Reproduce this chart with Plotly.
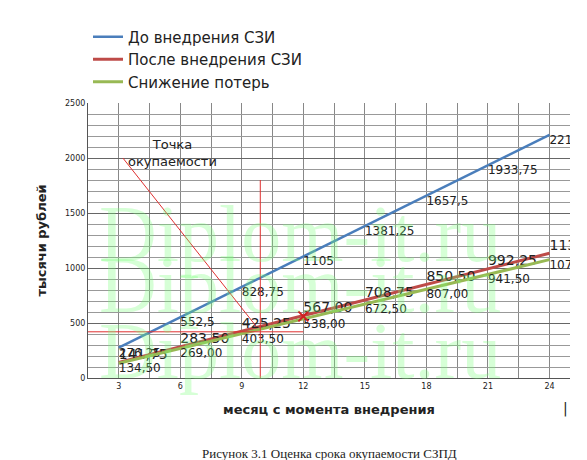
import plotly.graph_objects as go

months = [3, 6, 9, 12, 15, 18, 21, 24]
before = [276.25, 552.5, 828.75, 1105, 1381.25, 1657.5, 1933.75, 2210]
after = [141.75, 283.50, 425.25, 567.00, 708.75, 850.50, 992.25, 1134.00]
saving = [134.50, 269.00, 403.50, 538.00, 672.50, 807.00, 941.50, 1076.00]
before_lbl = ["276,25", "552,5", "828,75", "1105", "1381,25", "1657,5", "1933,75", "2210"]
after_lbl = ["141,75", "283,50", "425,25", "567,00", "708,75", "850,50", "992,25", "1134,00"]
saving_lbl = ["134,50", "269,00", "403,50", "538,00", "672,50", "807,00", "941,50", "1076,00"]
diag_x = [3.2, 9.7]
diag_y = [2000, 470]
vert_x = [9.9, 9.9]
vert_y = [0, 1800]
hor_x = [1.5, 12]
hor_y = [420, 420]
cross_x = [12]
cross_y = [560]

fig = go.Figure()
fig.add_trace(go.Scatter(x=months, y=before, mode="lines+text", name="До внедрения СЗИ",
    line=dict(color="#4a7ebb", width=2.5), text=before_lbl, textposition="bottom right",
    textfont=dict(size=12, color="#222")))
fig.add_trace(go.Scatter(x=months, y=after, mode="lines+text", name="После внедрения СЗИ",
    line=dict(color="#be4b48", width=3), text=after_lbl, textposition="top right",
    textfont=dict(size=14, color="#222")))
fig.add_trace(go.Scatter(x=months, y=saving, mode="lines+text", name="Снижение потерь",
    line=dict(color="#98b954", width=3), text=saving_lbl, textposition="bottom right",
    textfont=dict(size=12, color="#222")))
for xs, ys in [(diag_x, diag_y), (vert_x, vert_y), (hor_x, hor_y)]:
    fig.add_trace(go.Scatter(x=xs, y=ys, mode="lines", line=dict(color="#e03030", width=1), showlegend=False))
fig.add_trace(go.Scatter(x=cross_x, y=cross_y, mode="markers", marker=dict(symbol="x-thin", size=10,
    line=dict(color="#d02020", width=2)), showlegend=False))
fig.add_annotation(x=5.6, y=2050, text="Точка<br>окупаемости", showarrow=False,
    font=dict(size=13, color="#222"), align="center")

for yy in [0.69, 0.34, -0.07]:
    fig.add_annotation(xref="paper", yref="paper", x=0.44, y=yy, text="Diplom-it.ru", showarrow=False,
        font=dict(family="Liberation Serif", size=80, color="rgba(120,255,120,0.3)"))
fig.add_annotation(xref="paper", yref="paper", x=0.5, y=-0.31, text="Рисунок 3.1 Оценка срока окупаемости СЗПД",
    showarrow=False, font=dict(family="Liberation Serif", size=13, color="#222"))
fig.add_annotation(xref="paper", yref="paper", x=1.0, y=-0.15, text="|", showarrow=False,
    font=dict(size=14, color="#222"))

fig.update_layout(
    width=587, height=460, paper_bgcolor="white", plot_bgcolor="white",
    margin=dict(l=80, r=25, t=80, b=90),
    font=dict(family="DejaVu Sans", color="#222"),
    legend=dict(orientation="h", x=0.0, y=1.3, xanchor="left", yanchor="top",
                font=dict(size=15), traceorder="normal", entrywidth=215),
    xaxis=dict(range=[1.5, 25], tickvals=months, tickfont=dict(size=8), showgrid=False,
               minor=dict(dtick=1.5, tick0=1.5, showgrid=True, gridcolor="#888"),
               showline=True, linecolor="#555", zeroline=False,
               title=dict(text="<b>месяц с момента внедрения</b>", font=dict(size=13))),
    yaxis=dict(range=[0, 2500], dtick=500, tickfont=dict(size=8), gridcolor="#666",
               minor=dict(dtick=100, showgrid=True, gridcolor="#999"),
               showline=True, linecolor="#555", zeroline=False,
               title=dict(text="<b>тысячи рублей</b>", font=dict(size=13))),
)
fig.write_html("out.html")
